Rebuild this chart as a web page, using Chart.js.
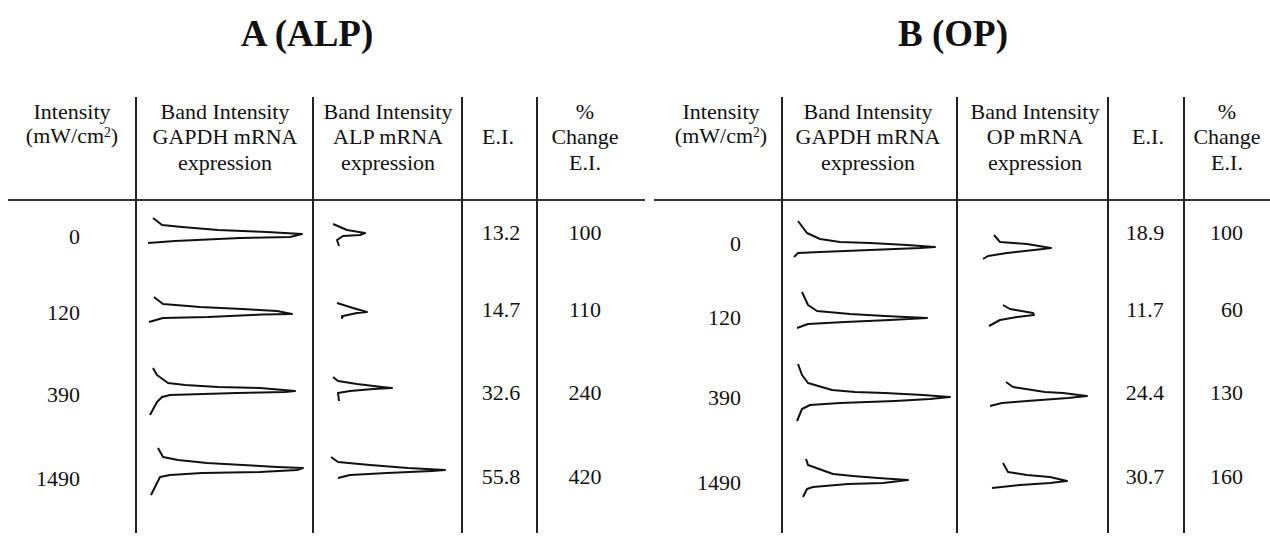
<!DOCTYPE html>
<html>
<head>
<meta charset="utf-8">
<script src="https://cdn.jsdelivr.net/npm/chart.js@4.4.1/dist/chart.umd.min.js"></script>
<style>
  html, body { margin: 0; padding: 0; background: #fff; }
  #fig { position: relative; width: 1270px; height: 536px; overflow: hidden; background: #fff;
         font-family: "Liberation Serif", "Times New Roman", serif; color: #111; }
  .t { position: absolute; transform: translate(-50%, -50%); white-space: nowrap; font-size: 22px; line-height: 22px; }
  .r { position: absolute; transform: translate(-100%, -50%); white-space: nowrap; font-size: 22px; line-height: 22px; }
  .title { font-size: 37px; line-height: 37px; font-weight: bold; }
  .vl { position: absolute; width: 2px; background: #222; }
  .hl { position: absolute; height: 2px; background: #333; }
  canvas { position: absolute; }
  sup2 { position: relative; top: -0.45em; font-size: 0.62em; }
</style>
</head>
<body>
<div id="fig"></div>
<script>
// ---- table values ----
const intensities = ['0', '120', '390', '1490']
const eiALP = ['13.2', '14.7', '32.6', '55.8']
const pctALP = ['100', '110', '240', '420']
const eiOP = ['18.9', '11.7', '24.4', '30.7']
const pctOP = ['100', '60', '130', '160']

// ---- densitometry traces: [signal, lane position] ----
const gapdhALP = [
    [[17,18],[26,25],[46,27],[82,30],[131,32],[166,34],[154,37],[104,38],[39,41],[12,43]],
    [[18,97],[27,104],[64,107],[106,109],[141,111],[156,114],[127,114.5],[72,117],[27,118],[13,122]],
    [[17,168],[21,175],[32,183],[49,185],[82,187],[124,188],[159,191],[149,192],[101,193],[34,195],[26,197],[21,202],[14,215]],
    [[22,248],[27,257],[42,260],[71,263],[107,265],[141,267],[167,268],[161,270],[124,272],[66,273],[34,275],[24,277],[21,283],[15,295]]
]
const alpTraces = [
    [[20,24],[34,30],[52,33],[47,35],[30,36],[24,40],[26,46]],
    [[24,103],[40,108],[54,112],[44,113],[30,116],[29,118]],
    [[20,177],[25,181],[44,184],[69,187],[79,188],[60,189],[37,191],[25,193],[26,201]],
    [[18,257],[25,262],[57,265],[95,268],[132,270],[119,271],[74,273],[37,275],[25,278]]
]
const gapdhOP = [
    [[16,21],[25,33],[38,39],[58,42],[88,43],[125,45],[153,47],[138,48],[88,50],[38,52],[16,53],[12,57]],
    [[20,92],[26,105],[35,111],[68,114],[103,116],[145,118],[108,120],[63,122],[26,124],[15,128]],
    [[16,164],[20,175],[26,183],[50,190],[73,192],[103,193],[141,195],[168,197],[148,199],[113,201],[58,203],[28,205],[20,209],[15,221]],
    [[24,259],[26,265],[51,274],[71,276],[96,278],[126,280],[101,283],[66,284],[31,287],[25,289],[21,297]]
]
const opTraces = [
    [[37,35],[43,42],[70,44],[94,48],[86,49],[50,53],[31,56],[26,59]],
    [[46,105],[53,109],[76,113],[77,115],[60,117],[43,120],[32,126]],
    [[49,182],[56,187],[88,192],[106,193],[130,196],[111,198],[70,201],[45,203],[33,206]],
    [[46,263],[51,272],[70,275],[93,277],[110,281],[93,283],[63,285],[35,288]]
]

const fig = document.getElementById('fig')

function addText(cls, x, y, html) {
    const d = document.createElement('div')
    d.className = cls
    d.style.left = x + 'px'
    d.style.top = y + 'px'
    d.innerHTML = html
    fig.appendChild(d)
}
function vline(x, y1, y2) {
    const d = document.createElement('div')
    d.className = 'vl'
    d.style.left = (x - 1) + 'px'
    d.style.top = y1 + 'px'
    d.style.height = (y2 - y1) + 'px'
    fig.appendChild(d)
}
function hline(x1, x2, y) {
    const d = document.createElement('div')
    d.className = 'hl'
    d.style.left = x1 + 'px'
    d.style.top = (y - 1) + 'px'
    d.style.width = (x2 - x1) + 'px'
    fig.appendChild(d)
}

const cm2 = '(mW/cm<sup2>2</sup2>)'
const headY = [112, 137, 163]

function panel(p) {
    addText('t title', p.titleX, 33, p.title)
    addText('t', p.cx[0], headY[0], 'Intensity')
    addText('t', p.cx[0], headY[1], cm2)
    addText('t', p.cx[1], headY[0], 'Band Intensity')
    addText('t', p.cx[1], headY[1], 'GAPDH mRNA')
    addText('t', p.cx[1], headY[2], 'expression')
    addText('t', p.cx[2], headY[0], 'Band Intensity')
    addText('t', p.cx[2], headY[1], p.gene + ' mRNA')
    addText('t', p.cx[2], headY[2], 'expression')
    addText('t', p.cx[3], headY[1], 'E.I.')
    addText('t', p.cx[4], headY[0], '%')
    addText('t', p.cx[4], headY[1], 'Change')
    addText('t', p.cx[4], headY[2], 'E.I.')

    hline(p.rule[0], p.rule[1], 200)
    p.lines.forEach(x => vline(x, 97, 533))

    intensities.forEach((v, i) => addText('r', p.labelRight, p.labelY[i], v))
    p.ei.forEach((v, i) => addText('t', p.eiX, p.valY[i], v))
    p.pct.forEach((v, i) => {
        if (p.pctRight) addText('r', p.pctRight, p.valY[i], v)
        else addText('t', p.cx[4], p.valY[i], v)
    })

    traceChart(p.lines[0], p.lines[1], p.traces[0])
    traceChart(p.lines[1], p.lines[2], p.traces[1])
}

function traceChart(x1, x2, traces) {
    const w = x2 - x1, h = 336
    const cv = document.createElement('canvas')
    cv.width = w
    cv.height = h
    cv.style.left = x1 + 'px'
    cv.style.top = '200px'
    cv.style.width = w + 'px'
    cv.style.height = h + 'px'
    fig.appendChild(cv)
    new Chart(cv.getContext('2d'), {
        type: 'scatter',
        data: {
            datasets: traces.map(tr => ({
                data: tr.map(p => ({ x: p[0], y: p[1] })),
                showLine: true,
                borderColor: '#111',
                borderWidth: 2,
                borderJoinStyle: 'round',
                pointRadius: 0,
                tension: 0,
                clip: false
            }))
        },
        options: {
            responsive: false,
            animation: false,
            devicePixelRatio: 1,
            layout: { padding: 0 },
            plugins: { legend: { display: false }, tooltip: { enabled: false } },
            scales: {
                x: { type: 'linear', display: false, min: 0, max: w },
                y: { type: 'linear', display: false, min: 0, max: h, reverse: true }
            }
        }
    })
}

panel({
    title: 'A (ALP)', titleX: 307, gene: 'ALP',
    cx: [72, 225, 388, 498, 585],
    eiX: 501,
    lines: [136, 313, 462, 537],
    rule: [8, 645],
    labelRight: 80, labelY: [237, 313, 395, 479],
    valY: [233, 310, 393, 477],
    ei: eiALP, pct: pctALP,
    traces: [gapdhALP, alpTraces]
})
panel({
    title: 'B (OP)', titleX: 953, gene: 'OP',
    cx: [721, 868, 1035, 1148, 1227],
    eiX: 1145,
    lines: [782, 957, 1108, 1184],
    rule: [654, 1270],
    labelRight: 741, labelY: [244, 318, 398, 483],
    valY: [233, 310, 393, 477],
    ei: eiOP, pct: pctOP, pctRight: 1243,
    traces: [gapdhOP, opTraces]
})
</script>
</body>
</html>
